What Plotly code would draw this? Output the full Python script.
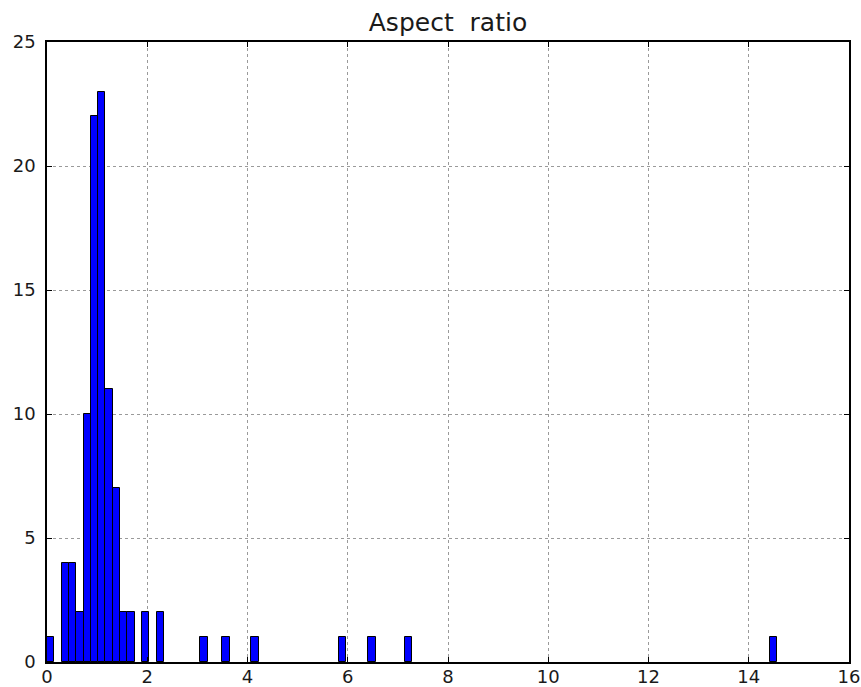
import plotly.graph_objects as go

# Histogram of aspect ratios: 100 equal-width bins spanning the observed range
ratio_min = 0.0
ratio_max = 14.57
n_bins = 100

# Non-empty bins (index into the 100 bins) and their counts
bin_index = [0, 2, 3, 4, 5, 6, 7, 8, 9, 10, 11, 13, 15, 21, 24, 28, 40, 44, 49, 99]
bin_count = [1, 4, 4, 2, 10, 22, 23, 11, 7, 2, 2, 2, 2, 1, 1, 1, 1, 1, 1, 1]

x_ticks = [0, 2, 4, 6, 8, 10, 12, 14, 16]
y_ticks = [0, 5, 10, 15, 20, 25]

width = (ratio_max - ratio_min) / n_bins
centers = [ratio_min + (i + 0.5) * width for i in bin_index]

fig = go.Figure(
    go.Bar(
        x=centers,
        y=bin_count,
        width=width,
        marker=dict(color="#0000ff", line=dict(color="#000000", width=1)),
    )
)

axis_common = dict(
    showline=True,
    linecolor="#000000",
    linewidth=1.5,
    mirror="ticks",
    ticks="inside",
    ticklen=5,
    tickcolor="#000000",
    showgrid=True,
    gridcolor="#9a9a9a",
    griddash="dot",
    gridwidth=1,
    zeroline=False,
    automargin=False,
    ticklabeloverflow="allow",
    tickfont=dict(family="DejaVu Sans", size=18, color="#1a1a1a"),
)

fig.update_xaxes(
    range=[0, 16], tickvals=x_ticks, ticktext=[str(v) for v in x_ticks],
    ticklabelstandoff=-2, **axis_common
)
fig.update_yaxes(
    range=[0, 25], tickvals=y_ticks, ticktext=[str(v) for v in y_ticks],
    ticklabelstandoff=6, **axis_common
)

fig.update_layout(
    width=861,
    height=687,
    margin=dict(l=47, r=12, t=42, b=25),
    plot_bgcolor="#ffffff",
    paper_bgcolor="#ffffff",
    showlegend=False,
    bargap=0,
    title=dict(
        text="Aspect  ratio",
        x=0.5 * (47 + 849) / 861,
        xanchor="center",
        y=1 - 22 / 687,
        yanchor="middle",
        font=dict(family="DejaVu Sans", size=25, color="#1a1a1a"),
    ),
)

fig.write_html("out.html")
